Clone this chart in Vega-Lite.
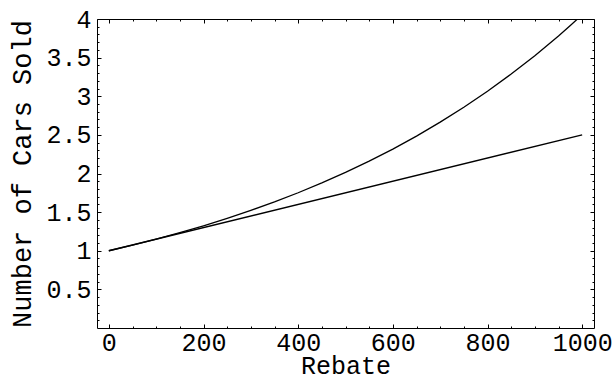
{
  "$schema": "https://vega.github.io/schema/vega-lite/v6.json",
  "width": 497,
  "height": 309,
  "autosize": {"type": "none"},
  "padding": {"left": 97, "top": 19, "right": 21, "bottom": 57},
  "background": "white",
  "config": {
    "view": {"stroke": "#000", "strokeWidth": 1},
    "axis": {
      "domain": false,
      "grid": false,
      "labelFont": "Liberation Mono",
      "titleFont": "Liberation Mono",
      "labelColor": "#000",
      "titleColor": "#000",
      "tickColor": "#000",
      "titleFontWeight": "normal",
      "labelFlush": false,
      "labelOverlap": false
    }
  },
  "datasets": {
    "curves": [
      {"series": "exp", "Rebate": 0, "Sold": 1.0},
      {"series": "exp", "Rebate": 50, "Sold": 1.0725},
      {"series": "exp", "Rebate": 100, "Sold": 1.1503},
      {"series": "exp", "Rebate": 150, "Sold": 1.2337},
      {"series": "exp", "Rebate": 200, "Sold": 1.3231},
      {"series": "exp", "Rebate": 250, "Sold": 1.4191},
      {"series": "exp", "Rebate": 300, "Sold": 1.522},
      {"series": "exp", "Rebate": 350, "Sold": 1.6323},
      {"series": "exp", "Rebate": 400, "Sold": 1.7507},
      {"series": "exp", "Rebate": 450, "Sold": 1.8776},
      {"series": "exp", "Rebate": 500, "Sold": 2.0138},
      {"series": "exp", "Rebate": 550, "Sold": 2.1598},
      {"series": "exp", "Rebate": 600, "Sold": 2.3164},
      {"series": "exp", "Rebate": 650, "Sold": 2.4843},
      {"series": "exp", "Rebate": 700, "Sold": 2.6645},
      {"series": "exp", "Rebate": 750, "Sold": 2.8577},
      {"series": "exp", "Rebate": 800, "Sold": 3.0649},
      {"series": "exp", "Rebate": 850, "Sold": 3.2871},
      {"series": "exp", "Rebate": 900, "Sold": 3.5254},
      {"series": "exp", "Rebate": 950, "Sold": 3.781},
      {"series": "exp", "Rebate": 975, "Sold": 3.916},
      {"series": "exp", "Rebate": 1000, "Sold": 4.0552},
      {"series": "lin", "Rebate": 0, "Sold": 1.0},
      {"series": "lin", "Rebate": 1000, "Sold": 2.5}
    ]
  },
  "data": {"name": "curves"},
  "resolve": {"axis": {"x": "independent", "y": "independent"}},
  "layer": [
    {
      "mark": {"type": "line", "color": "#000", "strokeWidth": 1.3, "clip": true},
      "encoding": {
        "x": {
          "field": "Rebate", "type": "quantitative",
          "scale": {"domain": [-25, 1025], "nice": false, "zero": false},
          "axis": {"orient": "bottom", "values": [0, 200, 400, 600, 800, 1000], "ticks": false, "format": "d",
                   "labelFontSize": 25, "labelPadding": 2, "title": "Rebate", "titleFontSize": 25, "titlePadding": -2}
        },
        "y": {
          "field": "Sold", "type": "quantitative",
          "scale": {"domain": [0, 4], "nice": false, "zero": false},
          "axis": {"orient": "left", "values": [0.5, 1, 1.5, 2, 2.5, 3, 3.5, 4], "ticks": false, "format": "~g",
                   "labelFontSize": 25, "labelPadding": 6, "title": "Number of Cars Sold", "titleFontSize": 27, "titlePadding": 9}
        },
        "detail": {"field": "series"}
      }
    },
    {
      "mark": {"type": "line", "opacity": 0},
      "encoding": {
        "x": {"field": "Rebate", "type": "quantitative",
              "axis": {"orient": "bottom", "values": [0, 200, 400, 600, 800, 1000], "labels": false, "tickSize": -4, "title": null}},
        "y": {"field": "Sold", "type": "quantitative",
              "axis": {"orient": "left", "values": [0.5, 1, 1.5, 2, 2.5, 3, 3.5, 4], "labels": false, "tickSize": -4, "title": null}},
        "detail": {"field": "series"}
      }
    },
    {
      "mark": {"type": "line", "opacity": 0},
      "encoding": {
        "x": {"field": "Rebate", "type": "quantitative",
              "axis": {"orient": "bottom", "values": [0, 50, 100, 150, 200, 250, 300, 350, 400, 450, 500, 550, 600, 650, 700, 750, 800, 850, 900, 950, 1000], "labels": false, "tickSize": -2, "title": null}},
        "y": {"field": "Sold", "type": "quantitative",
              "axis": {"orient": "left", "values": [0.1, 0.2, 0.3, 0.4, 0.6, 0.7, 0.8, 0.9, 1.1, 1.2, 1.3, 1.4, 1.6, 1.7, 1.8, 1.9, 2.1, 2.2, 2.3, 2.4, 2.6, 2.7, 2.8, 2.9, 3.1, 3.2, 3.3, 3.4, 3.6, 3.7, 3.8, 3.9], "labels": false, "tickSize": -2, "title": null}},
        "detail": {"field": "series"}
      }
    },
    {
      "mark": {"type": "line", "opacity": 0},
      "encoding": {
        "x": {"field": "Rebate", "type": "quantitative",
              "axis": {"orient": "top", "values": [0, 200, 400, 600, 800, 1000], "labels": false, "tickSize": -4, "title": null}},
        "y": {"field": "Sold", "type": "quantitative",
              "axis": {"orient": "right", "values": [0.5, 1, 1.5, 2, 2.5, 3, 3.5, 4], "labels": false, "tickSize": -4, "title": null}},
        "detail": {"field": "series"}
      }
    },
    {
      "mark": {"type": "line", "opacity": 0},
      "encoding": {
        "x": {"field": "Rebate", "type": "quantitative",
              "axis": {"orient": "top", "values": [0, 50, 100, 150, 200, 250, 300, 350, 400, 450, 500, 550, 600, 650, 700, 750, 800, 850, 900, 950, 1000], "labels": false, "tickSize": -2, "title": null}},
        "y": {"field": "Sold", "type": "quantitative",
              "axis": {"orient": "right", "values": [0.1, 0.2, 0.3, 0.4, 0.6, 0.7, 0.8, 0.9, 1.1, 1.2, 1.3, 1.4, 1.6, 1.7, 1.8, 1.9, 2.1, 2.2, 2.3, 2.4, 2.6, 2.7, 2.8, 2.9, 3.1, 3.2, 3.3, 3.4, 3.6, 3.7, 3.8, 3.9], "labels": false, "tickSize": -2, "title": null}},
        "detail": {"field": "series"}
      }
    }
  ]
}
